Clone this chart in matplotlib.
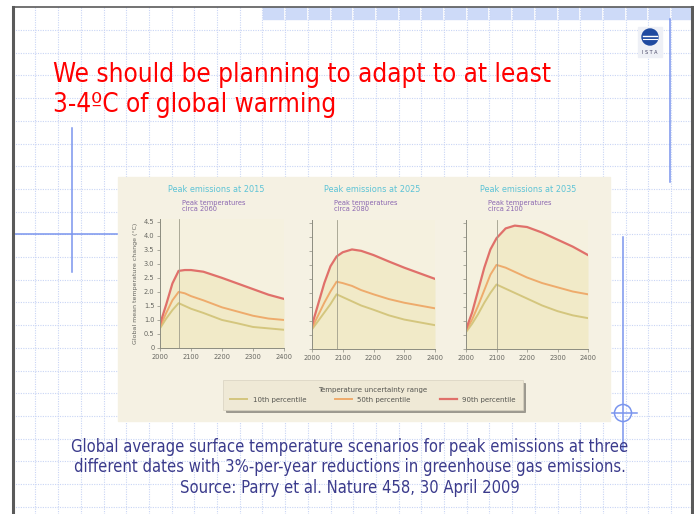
import matplotlib.pyplot as plt
from matplotlib import font_manager as fm
from matplotlib.patches import Rectangle, Circle

W, H = 694, 514

# --- data (global mean temperature change, deg C) ---
emission_peaks = [2015, 2025, 2035]
temp_peaks = [2060, 2080, 2100]

years_a = [2000, 2020, 2040, 2060, 2080, 2100, 2140, 2200, 2250, 2300, 2350, 2400]
p90_a = [0.85, 1.55, 2.3, 2.75, 2.78, 2.78, 2.72, 2.5, 2.3, 2.1, 1.9, 1.75]
p50_a = [0.75, 1.25, 1.7, 2.0, 1.95, 1.85, 1.7, 1.45, 1.3, 1.15, 1.05, 1.0]
p10_a = [0.7, 1.05, 1.35, 1.6, 1.5, 1.4, 1.25, 1.0, 0.88, 0.75, 0.7, 0.65]

years_b = [2000, 2020, 2040, 2060, 2080, 2100, 2130, 2160, 2200, 2250, 2300, 2350, 2400]
p90_b = [0.85, 1.6, 2.35, 2.95, 3.3, 3.45, 3.55, 3.5, 3.35, 3.12, 2.9, 2.7, 2.5]
p50_b = [0.75, 1.2, 1.65, 2.05, 2.4, 2.35, 2.25, 2.1, 1.95, 1.78, 1.65, 1.55, 1.45]
p10_b = [0.7, 1.0, 1.3, 1.6, 1.95, 1.85, 1.7, 1.55, 1.4, 1.2, 1.05, 0.95, 0.85]

years_c = [2000, 2020, 2040, 2060, 2080, 2100, 2130, 2160, 2200, 2250, 2300, 2350, 2400]
p90_c = [0.7, 1.3, 2.1, 2.9, 3.55, 3.95, 4.3, 4.4, 4.35, 4.15, 3.9, 3.65, 3.35]
p50_c = [0.65, 1.05, 1.55, 2.1, 2.65, 3.0, 2.9, 2.75, 2.55, 2.35, 2.2, 2.05, 1.95]
p10_c = [0.6, 0.9, 1.25, 1.65, 2.0, 2.3, 2.15, 2.0, 1.8, 1.55, 1.35, 1.2, 1.1]

xticks = [2000, 2100, 2200, 2300, 2400]
yticks = [0, 0.5, 1.0, 1.5, 2.0, 2.5, 3.0, 3.5, 4.0, 4.5]
ytick_labels = ["0", "0.5", "1.0", "1.5", "2.0", "2.5", "3.0", "3.5", "4.0", "4.5"]

title_lines = ["We should be planning to adapt to at least", "3-4\u00baC of global warming"]
caption_lines = ["Global average surface temperature scenarios for peak emissions at three",
                 "different dates with 3%-per-year reductions in greenhouse gas emissions.",
                 "Source: Parry et al. Nature 458, 30 April 2009"]

c10, c50, c90 = "#d4c67e", "#eeab6c", "#e0706a"

# slide text looks like a narrow sans; use one if the system has it
narrow_files = sorted(f.fname for f in fm.fontManager.ttflist
                      if ("Narrow" in f.name or f.stretch == "condensed")
                      and f.style == "normal" and f.weight in (400, "normal", "regular"))
if narrow_files:
    slide_font = dict(fontproperties=fm.FontProperties(fname=narrow_files[0]))
else:
    slide_font = dict(family=["Liberation Sans", "DejaVu Sans"])

fig = plt.figure(figsize=(W / 100, H / 100), dpi=100)
bg = fig.add_axes([0, 0, 1, 1])
bg.set_xlim(0, W)
bg.set_ylim(H, 0)
bg.axis("off")
renderer = fig.canvas.get_renderer()


def px_axes(left, top, right, bottom):
    return fig.add_axes([left / W, 1 - bottom / H, (right - left) / W, (bottom - top) / H])


def fit_width(texts, target):
    w = texts[0].get_window_extent(renderer).width
    size = texts[0].get_fontsize() * target / w
    for t in texts:
        t.set_fontsize(size)


# slide background: top band, grid, border
bg.add_patch(Rectangle((263, 7), 428, 12, color="#cddaf8", zorder=1))
gx = [35.5 + 22.7 * k for k in range(30) if 35.5 + 22.7 * k < 690]
gy = [30 + 22.7 * k for k in range(22) if 30 + 22.7 * k < H]
for x in gx:
    if x > 263:
        bg.plot([x, x], [7, 19], color="white", lw=1.2, zorder=2)
    bg.plot([x, x], [7, H], color="#c9d5f5", lw=0.8, ls=(0, (1, 1.2)), zorder=2)
for y in gy:
    bg.plot([13, 691], [y, y], color="#c9d5f5", lw=0.8, ls=(0, (1, 1.2)), zorder=2)
bg.plot([13, 13], [7, H], color="#5a5a5a", lw=2.2, zorder=5)
bg.plot([13, 694], [7, 7], color="#5a5a5a", lw=1.2, zorder=5)
bg.plot([692.5, 692.5], [7, H], color="#5a5a5a", lw=2.2, zorder=5)

# blue guide lines
blue = "#7a95ee"
bg.plot([72, 72], [128, 272], color=blue, lw=1.1, zorder=3)
bg.plot([13, 118], [234, 234], color=blue, lw=1.1, zorder=3)
bg.plot([670, 670], [19, 182], color=blue, lw=1.1, zorder=3)
bg.plot([623, 623], [237, 451], color=blue, lw=1.1, zorder=3)
bg.plot([611, 637], [413, 413], color=blue, lw=1.1, zorder=3)
bg.add_patch(Circle((623, 413), 8.5, fill=False, ec=blue, lw=1.1, zorder=3))

# logo
bg.add_patch(Rectangle((638, 27), 24, 30, color="#eef0f6", zorder=3))
bg.add_patch(Circle((650, 37), 8, color="#1f4aa0", zorder=4))
bg.plot([643, 657], [35.5, 35.5], color="white", lw=1.0, zorder=5)
bg.plot([643, 657], [39, 39], color="white", lw=0.8, zorder=5)
bg.text(650, 52, "I S T A", fontsize=3.5, color="#404060", ha="center", va="center", zorder=5)

# title
title_txt = [bg.text(53, 75 + 30 * i, line, fontsize=19, color="#ff0000",
                     ha="left", va="center", zorder=6, **slide_font)
             for i, line in enumerate(title_lines)]
fit_width(title_txt, 498)

# caption
caption_txt = [bg.text(350, 447 + 20.5 * i, line, fontsize=12, color="#3b3b8c",
                       ha="center", va="center", zorder=6, **slide_font)
               for i, line in enumerate(caption_lines)]
fit_width(caption_txt, 556)

# figure background (scanned figure)
bg.add_patch(Rectangle((118, 177), 492, 244, color="#f5f1e3", zorder=4))

# panels
panel_box = [(160, 219, 284, 348), (312, 220, 435, 349), (466, 220, 588, 349)]
title_x = [216, 372, 528]
panel_data = [(years_a, p10_a, p50_a, p90_a), (years_b, p10_b, p50_b, p90_b),
              (years_c, p10_c, p50_c, p90_c)]
handles = None
for i, (box, (yrs, p10, p50, p90)) in enumerate(zip(panel_box, panel_data)):
    ax = px_axes(*box)
    ax.set_facecolor("#f5f1df")
    ax.fill_between(yrs, 0, p90, color="#f1eac8", lw=0)
    l10, = ax.plot(yrs, p10, color=c10, lw=1.4, label="10th percentile")
    l50, = ax.plot(yrs, p50, color=c50, lw=1.4, label="50th percentile")
    l90, = ax.plot(yrs, p90, color=c90, lw=1.6, label="90th percentile")
    handles = [l10, l50, l90]
    ax.axvline(temp_peaks[i], color="#a09e8c", lw=0.6)
    ax.set_xlim(2000, 2400)
    ax.set_ylim(0, 4.6)
    ax.set_xticks(xticks)
    ax.set_xticklabels([str(t) for t in xticks], fontsize=4.8, color="#666660")
    ax.set_yticks(yticks)
    if i == 0:
        ax.set_yticklabels(ytick_labels, fontsize=4.8, color="#666660")
        ax.set_ylabel("Global mean temperature change (\u00b0C)", fontsize=4.5,
                      color="#666660", labelpad=4)
    else:
        ax.set_yticklabels([])
    ax.tick_params(length=2, width=0.5, color="#8c8c80", pad=2)
    for s in ["top", "right"]:
        ax.spines[s].set_visible(False)
    for s in ["left", "bottom"]:
        ax.spines[s].set_color("#8c8c80")
        ax.spines[s].set_linewidth(0.7)
    bg.text(title_x[i], 190, "Peak emissions at %d" % emission_peaks[i], fontsize=5.9,
            color="#5cc3d6", ha="center", va="center", zorder=6)
    bg.text(box[0] + 22, 206, "Peak temperatures\ncirca %d" % temp_peaks[i], fontsize=4.8,
            color="#8a66b0", ha="left", va="center", linespacing=1.1, zorder=6)

leg = fig.legend(handles=handles, loc="center", bbox_to_anchor=(373 / W, 1 - 395 / H),
                 ncol=3, fontsize=5, title="Temperature uncertainty range",
                 title_fontsize=5, frameon=True, shadow=True, fancybox=False,
                 handlelength=2.4, columnspacing=4.2, borderpad=1.0, handletextpad=0.8)
leg.get_frame().set_facecolor("#efe9d6")
leg.get_frame().set_edgecolor("#d8d2c0")
leg.get_frame().set_linewidth(0.5)
for t in leg.get_texts():
    t.set_color("#555550")
leg.get_title().set_color("#555550")

fig.savefig("out.png", dpi=100)
